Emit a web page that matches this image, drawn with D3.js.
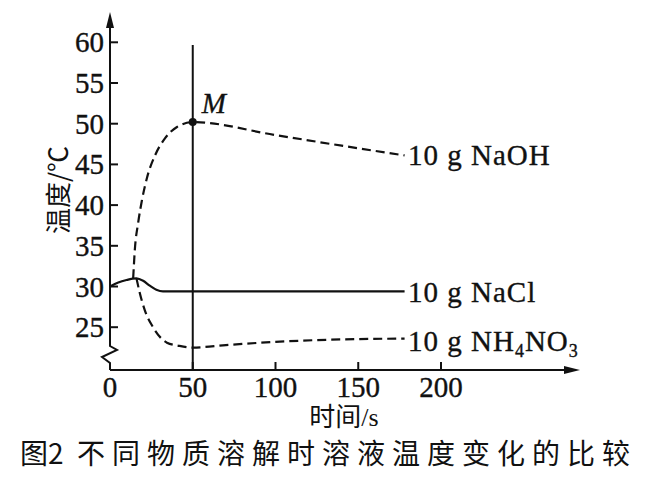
<!DOCTYPE html>
<html>
    <head>
        <meta charset="utf-8">
        <script src="https://d3js.org/d3.v7.min.js"></script>
        <style>
            body {
                margin: 0;
                background: #ffffff;
            }

            #chart-svg .num {
                font-family: "Liberation Serif", "DejaVu Serif", serif;
                fill: #111111;
                stroke: #111111;
                stroke-width: 0.35;
            }

            #chart-svg .cjk {
                font-family: "Noto Sans CJK SC", "Noto Sans", sans-serif;
                fill: #111111;
            }

            #chart-svg .mixed {
                font-family: "Liberation Serif", "Noto Sans CJK SC", serif;
                fill: #111111;
            }

            #chart-svg .axis-line,
            #chart-svg .tick-line,
            #chart-svg .marker-line {
                fill: none;
                stroke: #111111;
                stroke-width: 2;
            }

            #chart-svg .solid-line {
                fill: none;
                stroke: #111111;
                stroke-width: 2.2;
            }

            #chart-svg .dash-line {
                fill: none;
                stroke: #111111;
                stroke-width: 2.2;
                stroke-dasharray: 9 5;
            }
        </style>
    </head>
    <body>

        <script>

            const SVG_WIDTH = 671;
            const SVG_HEIGHT = 481;

            // axis geometry (pixels)
            const ORIGIN_X = 110;
            const ORIGIN_Y = 370;
            const X_ARROW_END = 580;
            const Y_ARROW_END = 12;
            const TICK_LEN = 8;

            // ticks
            const X_TICKS = [0, 50, 100, 150, 200];
            const Y_TICKS = [25, 30, 35, 40, 45, 50, 55, 60];

            // series values: time (s) and temperature (℃)
            const NACL_T = [0, 5, 10, 16, 20, 24, 28, 32, 50, 100, 178];
            const NACL_V = [30, 30.5, 30.8, 31.0, 30.7, 30.1, 29.6, 29.4, 29.4, 29.4, 29.4];

            const NAOH_T = [14, 15, 17, 19.3, 22.4, 27.2, 33.2, 40.5, 50, 100, 140, 178];
            const NAOH_V = [31, 34.5, 37.8, 40.6, 43.4, 46.1, 48.2, 49.6, 50.2, 48.6, 47.3, 46.1];

            const NH4NO3_T = [16, 18, 21, 26, 34.4, 42, 50, 70, 100, 140, 178];
            const NH4NO3_V = [31, 29.2, 27.1, 25.0, 23.1, 22.7, 22.5, 22.8, 23.2, 23.5, 23.6];

            const POINT_M = {t: 50, v: 50.2};
            const MARKER_TIME = 50;

            const X_LABEL = "时间/s";
            const Y_LABEL = "温度/℃";
            const FIG_NO = "图2";
            const CAPTION = "不同物质溶解时溶液温度变化的比较";

            function zipSeries(ts, vs) {
                var out = [];
                for (var i = 0; i < ts.length; i++) {
                    out.push({t: ts[i], v: vs[i]});
                }
                return out;
            }

            var nacl = zipSeries(NACL_T, NACL_V);
            var naoh = zipSeries(NAOH_T, NAOH_V);
            var nh4no3 = zipSeries(NH4NO3_T, NH4NO3_V);

            var svg = d3.select("body")
                .append("svg")
                .attr("width", SVG_WIDTH)
                .attr("height", SVG_HEIGHT)
                .attr("id", "chart-svg");

            var xScale = d3.scaleLinear()
                .domain([0, 200])
                .range([ORIGIN_X, 441]);
            var yScale = d3.scaleLinear()
                .domain([25, 60])
                .range([327.2, 42.3]);

            // x axis with arrow
            svg.append("line")
                .classed("axis-line", true)
                .attr("x1", ORIGIN_X).attr("y1", ORIGIN_Y)
                .attr("x2", X_ARROW_END - 10).attr("y2", ORIGIN_Y);
            svg.append("path")
                .attr("d", "M" + X_ARROW_END + "," + ORIGIN_Y +
                    " L" + (X_ARROW_END - 16) + "," + (ORIGIN_Y - 4) +
                    " L" + (X_ARROW_END - 16) + "," + (ORIGIN_Y + 4) + " Z")
                .attr("fill", "#111111");

            // y axis with break zigzag and arrow
            svg.append("path")
                .classed("axis-line", true)
                .attr("d", "M" + ORIGIN_X + "," + ORIGIN_Y +
                    " L" + ORIGIN_X + "," + (ORIGIN_Y - 7) +
                    " L" + (ORIGIN_X - 8) + "," + (ORIGIN_Y - 13) +
                    " L" + (ORIGIN_X + 7) + "," + (ORIGIN_Y - 20) +
                    " L" + ORIGIN_X + "," + (ORIGIN_Y - 24) +
                    " L" + ORIGIN_X + "," + (Y_ARROW_END + 10));
            svg.append("path")
                .attr("d", "M" + ORIGIN_X + "," + Y_ARROW_END +
                    " L" + (ORIGIN_X - 4) + "," + (Y_ARROW_END + 16) +
                    " L" + (ORIGIN_X + 4) + "," + (Y_ARROW_END + 16) + " Z")
                .attr("fill", "#111111");

            // x ticks and labels
            svg.selectAll(".x-tick")
                .data(X_TICKS.filter(function(d) { return d > 0; }))
                .enter()
                .append("line")
                .classed("tick-line", true)
                .attr("x1", function(d) { return xScale(d); })
                .attr("x2", function(d) { return xScale(d); })
                .attr("y1", ORIGIN_Y)
                .attr("y2", ORIGIN_Y - TICK_LEN);
            svg.selectAll(".x-tick-label")
                .data(X_TICKS)
                .enter()
                .append("text")
                .classed("num", true)
                .attr("x", function(d) { return xScale(d); })
                .attr("y", 397)
                .attr("text-anchor", "middle")
                .attr("font-size", 29)
                .text(function(d) { return d; });

            // y ticks and labels
            svg.selectAll(".y-tick")
                .data(Y_TICKS)
                .enter()
                .append("line")
                .classed("tick-line", true)
                .attr("x1", ORIGIN_X)
                .attr("x2", ORIGIN_X + TICK_LEN)
                .attr("y1", function(d) { return yScale(d); })
                .attr("y2", function(d) { return yScale(d); });
            svg.selectAll(".y-tick-label")
                .data(Y_TICKS)
                .enter()
                .append("text")
                .classed("num", true)
                .attr("x", ORIGIN_X - 6)
                .attr("y", function(d) { return yScale(d) + 10; })
                .attr("text-anchor", "end")
                .attr("font-size", 29)
                .text(function(d) { return d; });

            // vertical marker at t = 50
            svg.append("line")
                .classed("marker-line", true)
                .attr("x1", xScale(MARKER_TIME)).attr("x2", xScale(MARKER_TIME))
                .attr("y1", 45)
                .attr("y2", ORIGIN_Y);

            // curves
            var line = d3.line()
                .x(function(d) { return xScale(d.t); })
                .y(function(d) { return yScale(d.v); })
                .curve(d3.curveMonotoneX);

            svg.append("path")
                .datum(nacl)
                .classed("solid-line", true)
                .attr("d", line);
            svg.append("path")
                .datum(naoh)
                .classed("dash-line", true)
                .attr("d", line);
            svg.append("path")
                .datum(nh4no3)
                .classed("dash-line", true)
                .attr("d", line);

            // point M
            svg.append("circle")
                .attr("cx", xScale(POINT_M.t))
                .attr("cy", yScale(POINT_M.v))
                .attr("r", 4)
                .attr("fill", "#111111");
            svg.append("text")
                .classed("num", true)
                .attr("x", xScale(POINT_M.t) + 9)
                .attr("y", yScale(POINT_M.v) - 9)
                .attr("font-size", 29)
                .attr("font-style", "italic")
                .text("M");

            // series labels
            var LABEL_X = 408;
            svg.append("text")
                .classed("num", true)
                .attr("x", LABEL_X)
                .attr("y", 165)
                .attr("font-size", 29)
                .attr("letter-spacing", 1)
                .text("10 g NaOH");
            svg.append("text")
                .classed("num", true)
                .attr("x", LABEL_X)
                .attr("y", 302)
                .attr("font-size", 29)
                .attr("letter-spacing", 1)
                .text("10 g NaCl");
            var nh4Label = svg.append("text")
                .classed("num", true)
                .attr("x", LABEL_X)
                .attr("y", 351)
                .attr("font-size", 29)
                .attr("letter-spacing", 1);
            nh4Label.append("tspan").text("10 g NH");
            nh4Label.append("tspan").attr("font-size", 18).attr("dy", 6).text("4");
            nh4Label.append("tspan").attr("dy", -6).text("NO");
            nh4Label.append("tspan").attr("font-size", 18).attr("dy", 6).text("3");

            // axis titles
            svg.append("text")
                .classed("mixed", true)
                .attr("x", 344)
                .attr("y", 426)
                .attr("text-anchor", "middle")
                .attr("font-size", 26)
                .text(X_LABEL);

            svg.append("text")
                .classed("cjk", true)
                .attr("transform", "translate(56, 190) rotate(-90)")
                .attr("text-anchor", "middle")
                .attr("dominant-baseline", "central")
                .attr("font-size", 26)
                .text(Y_LABEL);

            // caption
            svg.append("text")
                .classed("cjk", true)
                .attr("x", 20)
                .attr("y", 464)
                .attr("font-size", 28)
                .text(FIG_NO);
            svg.append("text")
                .classed("cjk", true)
                .attr("x", 77)
                .attr("y", 464)
                .attr("font-size", 28)
                .attr("letter-spacing", 7)
                .text(CAPTION);
        </script>
    </body>
</html>
